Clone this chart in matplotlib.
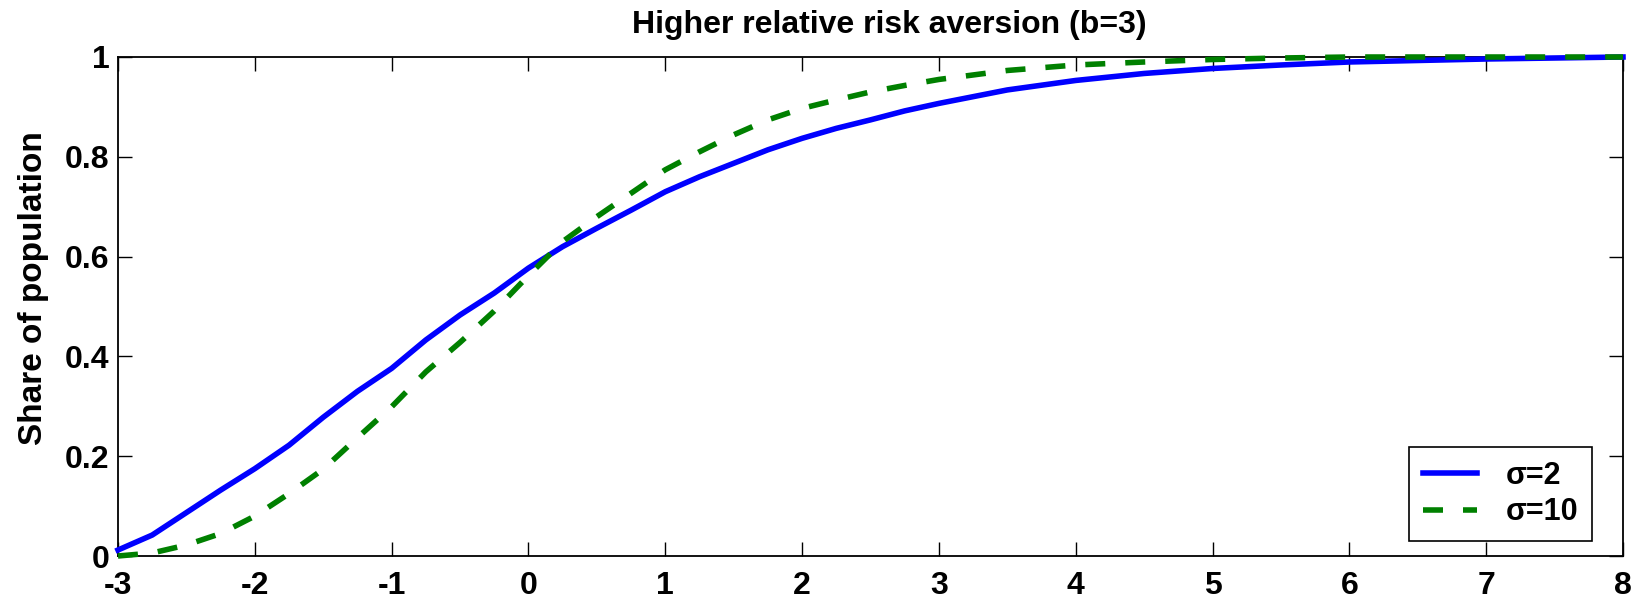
import matplotlib
matplotlib.use('Agg')
import matplotlib.pyplot as plt
from matplotlib.ticker import FormatStrFormatter

# Данные
x_vals = [-3, -2.75, -2.5, -2.25, -2, -1.75, -1.5, -1.25, -1, -0.75, -0.5, -0.25,
          0, 0.25, 0.5, 0.75, 1, 1.25, 1.5, 1.75, 2, 2.25, 2.5, 2.75,
          3, 3.5, 4, 4.5, 5, 5.5, 6, 6.5, 7, 7.5, 8]
share_sigma2 = [0.012, 0.042, 0.087, 0.132, 0.175, 0.222, 0.278, 0.33, 0.376, 0.433, 0.483, 0.527,
                0.577, 0.62, 0.657, 0.693, 0.73, 0.76, 0.787, 0.814, 0.837, 0.857, 0.874, 0.892,
                0.907, 0.934, 0.953, 0.967, 0.977, 0.984, 0.99, 0.993, 0.996, 0.998, 1.0]
share_sigma10 = [0.0, 0.006, 0.022, 0.045, 0.08, 0.125, 0.174, 0.237, 0.299, 0.369, 0.428, 0.491,
                 0.562, 0.63, 0.68, 0.727, 0.774, 0.81, 0.844, 0.874, 0.897, 0.914, 0.93, 0.943,
                 0.955, 0.973, 0.984, 0.99, 0.995, 0.998, 1.0, 1.0, 1.0, 1.0, 1.0]
x_ticks = [-3, -2, -1, 0, 1, 2, 3, 4, 5, 6, 7, 8]
y_ticks = [0, 0.2, 0.4, 0.6, 0.8, 1]

plt.rcParams['font.family'] = ['Liberation Sans', 'DejaVu Sans']
plt.rcParams['font.weight'] = 'bold'
plt.rcParams['axes.unicode_minus'] = False

fig = plt.figure(figsize=(16.48, 6.07), dpi=100)
W, H = 1648, 607
# Положение осей в пикселях: 118..1623 по x, 57..556 по y
ax = fig.add_axes([118 / W, 1 - 556 / H, (1623 - 118) / W, (556 - 57) / H])

ax.plot(x_vals, share_sigma2, color='#0000ff', lw=4, label='σ=2', clip_on=False, zorder=5)
ax.plot(x_vals, share_sigma10, color='#008000', lw=4, dashes=(3.6, 3.6), label='σ=10',
        clip_on=False, zorder=6)

ax.set_xlim(-3, 8)
ax.set_ylim(0, 1)
ax.set_xticks(x_ticks)
ax.set_yticks(y_ticks)
ax.yaxis.set_major_formatter(FormatStrFormatter('%g'))

for s in ax.spines.values():
    s.set_linewidth(1.3)
ax.tick_params(direction='in', top=True, right=True, length=10, width=1, labelsize=23)
ax.tick_params(axis='x', pad=11)
ax.tick_params(axis='y', pad=6)

ax.set_title('Higher relative risk aversion (b=3)', fontsize=23, fontweight='bold',
             x=0.5123, pad=17)
fig.text(18 / W, 1 - 288 / H, 'Share of population', rotation=90, ha='left', va='center',
         fontsize=24, fontweight='bold')

leg = ax.legend(loc='lower right', bbox_to_anchor=(0.9794, 0.030), borderaxespad=0,
                fontsize=22, handlelength=1.75, handletextpad=0.95, borderpad=0.45,
                labelspacing=0.2, fancybox=False, framealpha=1, edgecolor='black')
leg.get_frame().set_linewidth(1.2)

plt.savefig('out.png', dpi=100)
plt.close()
